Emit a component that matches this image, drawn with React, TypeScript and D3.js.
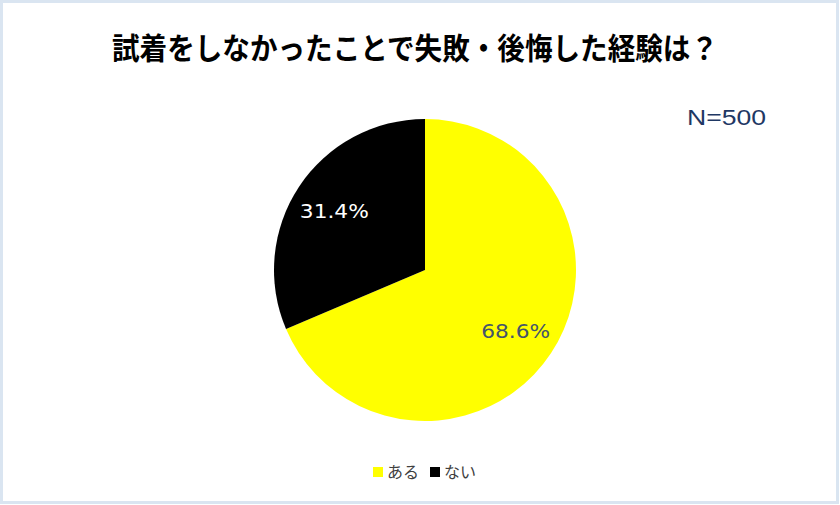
import { useEffect, useRef } from 'react';
import * as d3 from 'd3';

const title = '試着をしなかったことで失敗・後悔した経験は？';
const sampleNote = 'N=500';
const categories = ['ある', 'ない'];
const shares = [68.6, 31.4];
const sliceColors = ['#FFFF00', '#000000'];
const labelColors = ['#44546A', '#FFFFFF'];

const App: React.FC = () => {
    const chartRef = useRef<SVGSVGElement>(null);

    useEffect(() => {
        if (chartRef.current) {
            createChart();
        }
    }, []);

    const createChart = () => {
        d3.select(chartRef.current).selectAll('*').remove();

        const width = 840;
        const height = 505;
        const cx = 425;
        const cy = 270;
        const radius = 151;

        const svg = d3.select(chartRef.current).attr('width', width).attr('height', height);

        // frame
        svg.append('rect')
            .attr('x', 1.5)
            .attr('y', 1.5)
            .attr('width', width - 4)
            .attr('height', height - 4)
            .attr('fill', '#FFFFFF')
            .attr('stroke', '#DAE5F1')
            .attr('stroke-width', 3);

        // title
        svg.append('text')
            .attr('x', 112)
            .attr('y', 59)
            .attr('textLength', 606)
            .attr('lengthAdjust', 'spacingAndGlyphs')
            .style('font-family', '"Noto Sans CJK JP", sans-serif')
            .style('font-weight', 'bold')
            .style('font-size', '30px')
            .attr('fill', '#000000')
            .text(title);

        svg.append('text')
            .attr('x', 687)
            .attr('y', 125)
            .attr('textLength', 79)
            .attr('lengthAdjust', 'spacingAndGlyphs')
            .style('font-family', '"Liberation Sans", sans-serif')
            .style('font-size', '22px')
            .attr('fill', '#1F3864')
            .text(sampleNote);

        // pie
        const pie = d3.pie<number>().sort(null).value((d) => d);
        const arcs = pie(shares);
        const arc = d3.arc<d3.PieArcDatum<number>>().innerRadius(0).outerRadius(radius);
        const labelArc = d3.arc<d3.PieArcDatum<number>>().innerRadius(radius * 0.72).outerRadius(radius * 0.72);

        const g = svg.append('g').attr('transform', `translate(${cx}, ${cy})`);

        g.selectAll('path')
            .data(arcs)
            .enter()
            .append('path')
            .attr('d', arc)
            .attr('fill', (_, i) => sliceColors[i]);

        g.selectAll('.slice-label')
            .data(arcs)
            .enter()
            .append('text')
            .attr('class', 'slice-label')
            .attr('transform', (d) => `translate(${labelArc.centroid(d)})`)
            .attr('dy', '0.4em')
            .attr('text-anchor', 'middle')
            .attr('textLength', 69)
            .attr('lengthAdjust', 'spacingAndGlyphs')
            .style('font-family', '"DejaVu Sans", sans-serif')
            .style('font-size', '20px')
            .attr('fill', (_, i) => labelColors[i])
            .text((d) => `${d.data.toFixed(1)}%`);

        // legend
        const legendX = [373, 430];
        const legend = svg.selectAll('.legend')
            .data(categories)
            .enter()
            .append('g')
            .attr('class', 'legend')
            .attr('transform', (_, i) => `translate(${legendX[i]}, 472)`);

        legend.append('rect')
            .attr('x', 0)
            .attr('y', -5)
            .attr('width', 10)
            .attr('height', 10)
            .attr('fill', (_, i) => sliceColors[i]);

        legend.append('text')
            .attr('x', 14)
            .attr('y', 0)
            .attr('dy', '0.36em')
            .style('font-family', '"Noto Sans CJK JP", sans-serif')
            .style('font-size', '16px')
            .attr('fill', '#404040')
            .text((d) => d);
    };

    return <svg ref={chartRef} style={{ position: 'absolute', left: 0, top: 0, display: 'block' }} />;
};

export default App;
